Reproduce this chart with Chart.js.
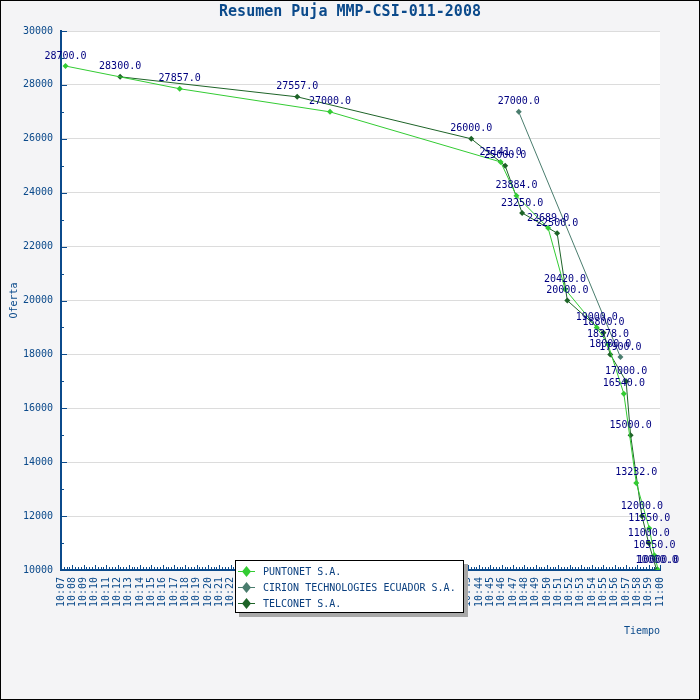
<!DOCTYPE html>
<html>
<head>
<meta charset="utf-8">
<title>Resumen Puja MMP-CSI-011-2008</title>
<script src="https://cdn.jsdelivr.net/npm/chart.js@4.4.1/dist/chart.umd.min.js"></script>
<style>
    html, body { margin: 0; padding: 0; background: #f4f4f6; }
    #wrap { width: 700px; height: 700px; }
</style>
</head>
<body>
<div id="wrap"><canvas id="pujaChart" width="700" height="700"></canvas></div>
<script>
// ========== DATA ==========
const chartTitle = "Resumen Puja MMP-CSI-011-2008";
const yTitle = "Oferta";
const xTitle = "Tiempo";
const seriesNames = ["PUNTONET S.A.", "CIRION TECHNOLOGIES ECUADOR S.A.", "TELCONET S.A."];

const puntonetTimes = ["10:07:24", "10:17:30", "10:30:48", "10:45:54", "10:47:18", "10:50:06", "10:51:36",
    "10:54:24", "10:55:24", "10:56:48", "10:57:54", "10:59:03", "10:59:30", "10:59:51"];
const puntonetOffers = [28700, 27857, 27000, 25141, 23884, 22689, 20420,
    19000, 18378, 16540, 13232, 11550, 10550, 10000];

const cirionTimes = ["10:47:30", "10:56:30"];
const cirionOffers = [27000, 17900];

const telconetTimes = ["10:12:14", "10:27:54", "10:43:18", "10:46:18", "10:47:48", "10:50:54", "10:51:48",
    "10:55:00", "10:55:36", "10:57:00", "10:57:24", "10:58:24", "10:59:00", "10:59:42"];
const telconetOffers = [28300, 27557, 26000, 25000, 23250, 22500, 20000,
    18800, 18000, 17000, 15000, 12000, 11000, 10000];

// axis range: minutes after 10:00, offers
const xFirstTick = "10:07";
const xLastTick = "11:00";
const yMin = 10000;
const yMax = 30000;
const yStep = 2000;

// ========== STYLE ==========
const seriesColors = ["#33cc33", "#4a7d6e", "#1e6428"];
const axisBlue = "#0b4a8b";
const labelNavy = "#000080";
const monoFont = "'DejaVu Sans Mono', 'Liberation Mono', monospace";

// "HH:MM[:SS]" -> minutes after 10:00
function toMinutes(clock) {
    const parts = clock.split(":").map(Number);
    return (parts[0] - 10) * 60 + parts[1] + (parts[2] || 0) / 60;
}

function pad(n) {
    return String(n).padStart(2, "0");
}

function buildPoints(times, offers) {
    return times.map((t, i) => ({ x: toMinutes(t), y: offers[i] }));
}

const xMin = toMinutes(xFirstTick);
const xMax = toMinutes(xLastTick);

// ========== PLUGINS ==========
const frame = {
    id: "frame",
    beforeDraw(chart) {
        const { ctx, chartArea } = chart;
        ctx.save();
        ctx.fillStyle = "#f4f4f6";
        ctx.fillRect(0, 0, chart.width, chart.height);
        ctx.fillStyle = "#ffffff";
        ctx.fillRect(chartArea.left, chartArea.top, chartArea.right - chartArea.left, chartArea.bottom - chartArea.top);
        ctx.strokeStyle = "#000000";
        ctx.lineWidth = 1;
        ctx.strokeRect(0.5, 0.5, chart.width - 1, chart.height - 1);

        // titles
        ctx.fillStyle = axisBlue;
        ctx.textBaseline = "middle";
        ctx.textAlign = "center";
        ctx.font = "bold 15px " + monoFont;
        ctx.fillText(chartTitle, chart.width / 2, 12);
        ctx.font = "10px " + monoFont;
        ctx.textAlign = "right";
        ctx.fillText(xTitle, chartArea.right, 631);
        ctx.translate(14, (chartArea.top + chartArea.bottom) / 2);
        ctx.rotate(-Math.PI / 2);
        ctx.textAlign = "center";
        ctx.fillText(yTitle, 0, 0);
        ctx.restore();
    }
};

// small tick marks pointing into the plot
const innerTicks = {
    id: "innerTicks",
    beforeDatasetsDraw(chart) {
        const { ctx, chartArea, scales } = chart;
        ctx.save();
        ctx.strokeStyle = axisBlue;
        ctx.lineWidth = 1;
        ctx.beginPath();
        for (let v = yMin; v <= yMax; v += yStep / 2) {
            const y = Math.round(scales.y.getPixelForValue(v)) + 0.5;
            const len = (v - yMin) % yStep === 0 ? 6 : 3;
            ctx.moveTo(chartArea.left, y);
            ctx.lineTo(chartArea.left + len, y);
        }
        for (let q = xMin * 4; q <= xMax * 4; q++) {
            const x = Math.round(scales.x.getPixelForValue(q / 4)) + 0.5;
            const len = q % 4 === 0 ? 5 : 3;
            ctx.moveTo(x, chartArea.bottom);
            ctx.lineTo(x, chartArea.bottom - len);
        }
        ctx.stroke();
        ctx.restore();
    }
};

const pointLabels = {
    id: "pointLabels",
    afterDatasetsDraw(chart) {
        const ctx = chart.ctx;
        ctx.save();
        ctx.font = "10px " + monoFont;
        ctx.fillStyle = labelNavy;
        ctx.textAlign = "center";
        ctx.textBaseline = "middle";
        chart.data.datasets.forEach((ds, i) => {
            chart.getDatasetMeta(i).data.forEach((pt, j) => {
                ctx.fillText(ds.data[j].y.toFixed(1), pt.x, pt.y - 10);
            });
        });
        ctx.restore();
    }
};

const boxLegend = {
    id: "boxLegend",
    afterDraw(chart) {
        const ctx = chart.ctx;
        const left = 235, top = 560, w = 229, h = 53;
        ctx.save();
        ctx.fillStyle = "#a8a8a8";
        ctx.fillRect(left + 4, top + 4, w, h);
        ctx.fillStyle = "#ffffff";
        ctx.fillRect(left, top, w, h);
        ctx.strokeStyle = "#000000";
        ctx.lineWidth = 1;
        ctx.strokeRect(left + 0.5, top + 0.5, w - 1, h - 1);
        ctx.font = "10px " + monoFont;
        ctx.textBaseline = "middle";
        ctx.textAlign = "left";
        chart.data.datasets.forEach((ds, i) => {
            const y = top + 11 + i * 16;
            ctx.strokeStyle = ds.borderColor;
            ctx.lineWidth = 1;
            ctx.beginPath();
            ctx.moveTo(left + 3, y + 0.5);
            ctx.lineTo(left + 20, y + 0.5);
            ctx.stroke();
            ctx.fillStyle = ds.borderColor;
            ctx.beginPath();
            ctx.moveTo(left + 11.5, y - 5);
            ctx.lineTo(left + 16, y + 0.5);
            ctx.lineTo(left + 11.5, y + 6);
            ctx.lineTo(left + 7, y + 0.5);
            ctx.closePath();
            ctx.fill();
            ctx.fillStyle = "#0a3f7f";
            ctx.fillText(ds.label, left + 28, y + 1);
        });
        ctx.restore();
    }
};

// ========== CHART ==========
const allTimes = [puntonetTimes, cirionTimes, telconetTimes];
const allOffers = [puntonetOffers, cirionOffers, telconetOffers];

const datasets = seriesNames.map((name, i) => ({
    label: name,
    data: buildPoints(allTimes[i], allOffers[i]),
    borderColor: seriesColors[i],
    backgroundColor: seriesColors[i],
    borderWidth: 1,
    pointStyle: "rectRot",
    pointRadius: 3,
    pointBorderWidth: 0,
    tension: 0
}));

const ctx = document.getElementById("pujaChart").getContext("2d");
const pujaChart = new Chart(ctx, {
    type: "line",
    data: { datasets: datasets },
    options: {
        responsive: false,
        animation: false,
        events: [],
        layout: { padding: { top: 31, left: 0, right: 40, bottom: 0 } },
        plugins: {
            legend: { display: false },
            title: { display: false },
            tooltip: { enabled: false }
        },
        scales: {
            x: {
                type: "linear",
                min: xMin,
                max: xMax,
                afterFit(scale) { scale.height = 130; },
                grid: { drawOnChartArea: false, drawTicks: false },
                border: { color: axisBlue, width: 2 },
                ticks: {
                    stepSize: 1,
                    autoSkip: false,
                    minRotation: 90,
                    maxRotation: 90,
                    padding: 7,
                    color: axisBlue,
                    font: { family: monoFont, size: 10, lineHeight: 1 },
                    callback: function (value) {
                        return pad(10 + Math.floor(value / 60)) + ":" + pad(value % 60);
                    }
                }
            },
            y: {
                min: yMin,
                max: yMax,
                afterFit(scale) { scale.width = 61; },
                grid: { color: "#dcdcdc", drawTicks: false },
                border: { color: axisBlue, width: 2 },
                ticks: {
                    stepSize: yStep,
                    padding: 8,
                    color: axisBlue,
                    font: { family: monoFont, size: 10 },
                    callback: function (value) {
                        return String(value);
                    }
                }
            }
        }
    },
    plugins: [frame, innerTicks, pointLabels, boxLegend]
});
</script>
</body>
</html>
